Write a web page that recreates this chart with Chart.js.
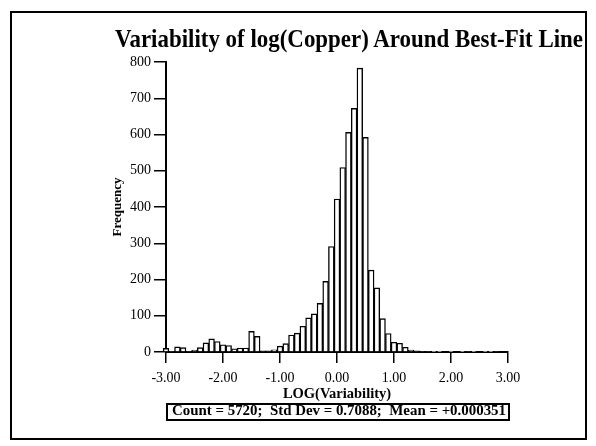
<!DOCTYPE html>
<html><head><meta charset="utf-8">
<script src="https://cdn.jsdelivr.net/npm/chart.js@4.4.1/dist/chart.umd.min.js"></script>
<style>
html,body{margin:0;padding:0;background:#fff;}
#wrap{position:relative;width:596px;height:446px;overflow:hidden;background:#fff;}
#c{position:absolute;left:0;top:0;}
#frame{position:absolute;left:10px;top:11px;width:573px;height:425px;border:2px solid #000;pointer-events:none;}
#title{position:absolute;left:115px;top:26px;font:bold 26px "Liberation Serif","Times New Roman",serif;line-height:26px;white-space:nowrap;transform-origin:0 0;color:#000;}
#stats{position:absolute;left:166px;top:403px;width:340px;height:14px;border:2px solid #000;}
#statsText{position:absolute;left:4px;top:-1px;font:bold 14px "Liberation Serif","Times New Roman",serif;line-height:14px;white-space:nowrap;transform-origin:0 0;color:#000;}
</style></head>
<body>
<div id="wrap">
<canvas id="c" width="596" height="446"></canvas>
<div id="frame"></div>
<div id="title">Variability of log(Copper) Around Best-Fit Line</div>
<div id="stats"><span id="statsText">Count = 5720;&nbsp; Std Dev = 0.7088;&nbsp; Mean = +0.000351</span></div>
</div>
<script>
const binCenters = [-3.0,-2.9,-2.8,-2.7,-2.6,-2.5,-2.4,-2.3,-2.2,-2.1,
  -2.0,-1.9,-1.8,-1.7,-1.6,-1.5,-1.4,-1.3,-1.2,-1.1,
  -1.0,-0.9,-0.8,-0.7,-0.6,-0.5,-0.4,-0.3,-0.2,-0.1,
  0.0,0.1,0.2,0.3,0.4,0.5,0.6,0.7,0.8,0.9,
  1.0,1.1,1.2,1.3,1.4,1.5,1.6,1.7,1.8,1.9,
  2.0,2.1,2.2,2.3,2.4,2.5,2.6,2.7,2.8,2.9,3.0];
const frequencies = [10,2,14,12,2,5,12,25,36,29,
  20,18,9,11,11,57,43,3,3,6,
  16,23,47,52,71,94,105,134,195,291,
  422,509,606,672,783,592,226,177,92,51,
  27,24,13,5,3,2,2,1,1,0,
  1,0,1,2,1,0,1,1,2,0,0];
const xTickValues = [-3,-2,-1,0,1,2,3];
const xTickLabels = ['-3.00','-2.00','-1.00','0.00','1.00','2.00','3.00'];
const yTickValues = [0,100,200,300,400,500,600,700,800];
const yTickLabels = ['0','100','200','300','400','500','600','700','800'];

function fitWidth(id, target){
  const el = document.getElementById(id);
  const w = el.getBoundingClientRect().width;
  el.style.transform = 'scaleX(' + (target / w) + ')';
}
fitWidth('title', 468);
fitWidth('statsText', 334);

const serif = '"Liberation Serif","Times New Roman",serif';
new Chart(document.getElementById('c'), {
  type: 'bar',
  data: {
    datasets: [{
      data: binCenters.map((x, i) => ({x: x, y: frequencies[i]})),
      backgroundColor: '#ffffff',
      borderColor: '#000000',
      borderWidth: 1.4,
      borderSkipped: 'start',
      barPercentage: 1.0,
      categoryPercentage: 1.0,
      clip: false
    }]
  },
  options: {
    responsive: false,
    animation: false,
    devicePixelRatio: 1,
    layout: {padding: {left: 110, right: 88, top: 62, bottom: 43}},
    plugins: {legend: {display: false}, tooltip: {enabled: false}, title: {display: false}},
    scales: {
      x: {
        type: 'linear',
        min: -3, max: 3,
        offset: false,
        afterFit: s => { s.height = 51; },
        afterBuildTicks: s => { s.ticks = xTickValues.map(v => ({value: v})); },
        grid: {display: true, drawOnChartArea: false, drawTicks: true, tickLength: 11, color: '#000', lineWidth: 1.5, offset: false},
        border: {display: true, color: '#000', width: 2},
        ticks: {
          color: '#000', padding: 7, maxRotation: 0, autoSkip: false,
          font: {family: serif, size: 14},
          callback: v => { const i = xTickValues.indexOf(v); return i >= 0 ? xTickLabels[i] : ''; }
        },
        title: {display: true, text: 'LOG(Variability)', color: '#000', padding: 0,
          font: {family: serif, size: 14.5, weight: 'bold'}}
      },
      y: {
        min: 0, max: 800,
        afterFit: s => { s.width = 56; },
        afterBuildTicks: s => { s.ticks = yTickValues.map(v => ({value: v})); },
        grid: {display: true, drawOnChartArea: false, drawTicks: true, tickLength: 12, color: '#000', lineWidth: 1.5},
        border: {display: true, color: '#000', width: 2},
        ticks: {
          color: '#000', padding: 3, autoSkip: false,
          font: {family: serif, size: 14},
          callback: v => { const i = yTickValues.indexOf(v); return i >= 0 ? yTickLabels[i] : ''; }
        },
        title: {display: true, text: 'Frequency', color: '#000', padding: 0,
          font: {family: serif, size: 13, weight: 'bold'}}
      }
    }
  }
});
</script>
</body></html>
